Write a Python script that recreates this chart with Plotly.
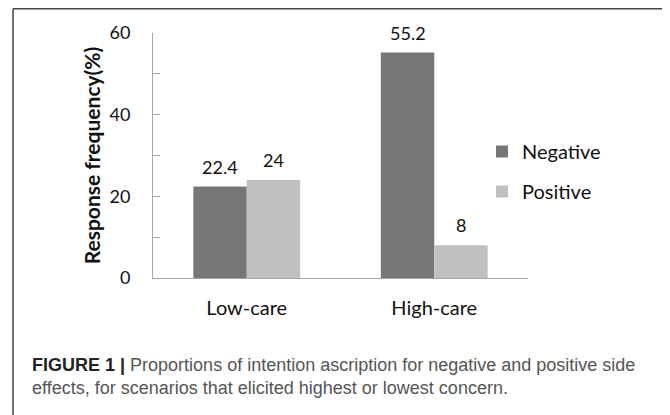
import plotly.graph_objects as go

categories = ["Low-care", "High-care"]
negative = [22.4, 55.2]
positive = [24, 8]
series_names = ["Negative", "Positive"]
y_ticks = [0, 20, 40, 60]

# page has an 8px body margin; figure is sized to fit the 670x415 window
OFF = 8
W, H = 670 - OFF, 415 - OFF
L, T = 153 - OFF, 33 - OFF
R = W - (528 - OFF)
B = H - (278 - OFF)
pw, ph = W - L - R, H - T - B

def fx(x):  # reference-window pixel -> paper x
    return (x - OFF - L) / pw

def fy(y):  # reference-window pixel -> paper y
    return (H - B - (y - OFF)) / ph

FONT = "Lato"
colors = ["#777777", "#c0c0c0"]
BARGAP = 0.43

fig = go.Figure()
for name, vals, col in zip(series_names, [negative, positive], colors):
    fig.add_trace(go.Bar(
        x=categories, y=vals, name=name, marker=dict(color=col, line=dict(width=0)),
        legendgroup=name, cliponaxis=False,
    ))

# value labels above bars
bw = pw / len(categories) * (1 - BARGAP) / len(series_names)
for i, vals in enumerate([negative, positive]):
    for cat, v in zip(categories, vals):
        fig.add_annotation(x=cat, y=v, text=f"{v:g}", showarrow=False,
                           xshift=(i - (len(series_names) - 1) / 2) * bw, yshift=20,
                           yanchor="middle", font=dict(family=FONT, size=18, color="#111"))

fig.update_layout(
    width=W, height=H,
    margin=dict(l=L, r=R, t=T, b=B, pad=0),
    paper_bgcolor="white", plot_bgcolor="white",
    barmode="group", bargap=BARGAP, bargroupgap=0,
    font=dict(family=FONT, size=18, color="#111"),
    showlegend=True,
    legend=dict(x=fx(482), y=fy(132), xanchor="left", yanchor="top",
                font=dict(family=FONT, size=20, color="#111"),
                tracegroupgap=11, bgcolor="rgba(0,0,0,0)", borderwidth=0),
    xaxis=dict(showline=True, linecolor="#a6a6a6", linewidth=1, ticks="",
               showgrid=False, ticklabelstandoff=12, zeroline=False,
               tickfont=dict(family=FONT, size=20, color="#111")),
    yaxis=dict(range=[0, 60], tickvals=y_ticks, showline=True, linecolor="#a6a6a6",
               linewidth=1, ticks="inside", ticklen=7, tickcolor="#a6a6a6",
               showgrid=False, zeroline=False, ticklabelstandoff=18,
               tickfont=dict(family=FONT, size=18, color="#111"),
               minor=dict(dtick=10, ticks="inside", ticklen=7, tickcolor="#a6a6a6", showgrid=False),
               title=dict(text="<b>Response frequency(%)</b>", standoff=3,
                          font=dict(family=FONT, size=21, color="#111"))),
)

# figure frame (top and left edges visible)
fig.add_shape(type="line", xref="paper", yref="paper", x0=fx(13), x1=fx(680),
              y0=fy(8.7), y1=fy(8.7), line=dict(color="#444", width=1.5))
fig.add_shape(type="line", xref="paper", yref="paper", x0=fx(13), x1=fx(13),
              y0=fy(8.7), y1=fy(425), line=dict(color="#444", width=1.5))

caption = ("<b>FIGURE 1 |</b> <span style='color:#555'>Proportions of intention ascription for negative and positive side<br>"
           "effects, for scenarios that elicited highest or lowest concern.</span>")
fig.add_annotation(text=caption, xref="paper", yref="paper", x=fx(30), y=fy(353),
                   xanchor="left", yanchor="top", showarrow=False, align="left",
                   font=dict(family="Liberation Sans", size=18, color="#222"))

fig.write_html("out.html")
